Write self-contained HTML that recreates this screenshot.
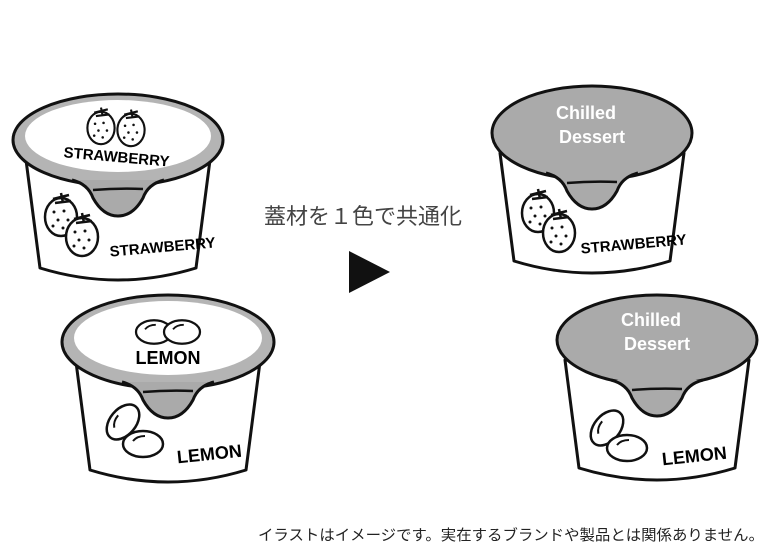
<!DOCTYPE html>
<html><head><meta charset="utf-8"><style>
html,body{margin:0;padding:0;background:#fff;}
svg{display:block}
text{font-family:"Liberation Sans","Noto Sans CJK JP",sans-serif;}
.h{font-family:"Liberation Sans",sans-serif;font-weight:bold;}
</style></head><body>
<svg width="777" height="556" viewBox="0 0 777 556" xmlns="http://www.w3.org/2000/svg">
<defs>
<g id="body">
<path d="M-92,20 L-78,128 Q0,152 78,128 L92,20 Z" fill="#fff" stroke="#111" stroke-width="3" stroke-linejoin="round"/>
</g>
<g id="tab">
<path d="M-46,40 Q-30,44 -25,58 Q-15,76 0,76 Q15,76 25,58 Q30,44 46,40" fill="#aaa" stroke="#111" stroke-width="3" stroke-linejoin="round"/>
<path d="M-25,50 Q0,48 25,49" fill="none" stroke="#111" stroke-width="2.5"/>
</g>
<g id="berry">
<ellipse cx="0" cy="0" rx="16" ry="19" fill="#fff" stroke="#111" stroke-width="2.5"/>
<path d="M-8,-18 L8,-22 M0,-24 L2,-14 M-6,-14 L10,-16" stroke="#111" stroke-width="2.5"/>
<g fill="#111"><circle cx="-7" cy="-5" r="1.5"/><circle cx="3" cy="-6" r="1.5"/><circle cx="-3" cy="3" r="1.5"/><circle cx="7" cy="3" r="1.5"/><circle cx="-8" cy="9" r="1.5"/><circle cx="2" cy="11" r="1.5"/></g>
</g>
<g id="lemon">
<ellipse cx="0" cy="0" rx="20" ry="13" fill="#fff" stroke="#111" stroke-width="2.5"/>
<path d="M-10,-3 Q-6,-8 2,-8" fill="none" stroke="#111" stroke-width="2"/>
</g>
</defs>

<!-- Top-left strawberry -->
<g transform="translate(118,140)">
<use href="#body"/>
<ellipse cx="0" cy="0" rx="105" ry="46" fill="#b4b4b4" stroke="#111" stroke-width="3"/>
<ellipse cx="0" cy="-4" rx="93" ry="36" fill="#fff"/>
<use href="#tab"/>
<use href="#berry" transform="translate(-17,-12) scale(0.85)"/>
<use href="#berry" transform="translate(13,-10) scale(0.85)"/>
<text x="0" y="22" text-anchor="middle" class="h" font-size="15" transform="rotate(5)">STRAWBERRY</text>
<use href="#berry" transform="translate(-57,77)"/>
<use href="#berry" transform="translate(-36,97)"/>
<text x="45" y="112" text-anchor="middle" class="h" font-size="15" transform="rotate(-5 45 112)">STRAWBERRY</text>
</g>

<!-- Top-right -->
<g transform="translate(592,133)">
<use href="#body"/>
<ellipse cx="0" cy="0" rx="100" ry="47" fill="#aaa" stroke="#111" stroke-width="3"/>
<use href="#tab"/>
<text x="-6" y="-14" text-anchor="middle" class="h" font-size="18" fill="#fff">Chilled</text>
<text x="0" y="10" text-anchor="middle" class="h" font-size="18" fill="#fff">Dessert</text>
<use href="#berry" transform="translate(-54,80)"/>
<use href="#berry" transform="translate(-33,100)"/>
<text x="42" y="116" text-anchor="middle" class="h" font-size="15" transform="rotate(-5 42 116)">STRAWBERRY</text>
</g>

<!-- Bottom-left lemon -->
<g transform="translate(168,342)">
<use href="#body"/>
<ellipse cx="0" cy="0" rx="106" ry="47" fill="#b4b4b4" stroke="#111" stroke-width="3"/>
<ellipse cx="0" cy="-4" rx="94" ry="37" fill="#fff"/>
<use href="#tab"/>
<use href="#lemon" transform="translate(-14,-10) scale(0.9)"/>
<use href="#lemon" transform="translate(14,-10) scale(0.9)"/>
<text x="0" y="22" text-anchor="middle" class="h" font-size="18">LEMON</text>
<use href="#lemon" transform="translate(-45,80) rotate(-50)"/>
<use href="#lemon" transform="translate(-25,102)"/>
<text x="42" y="118" text-anchor="middle" class="h" font-size="18" transform="rotate(-6 42 118)">LEMON</text>
</g>

<!-- Bottom-right -->
<g transform="translate(657,340)">
<use href="#body"/>
<ellipse cx="0" cy="0" rx="100" ry="45" fill="#aaa" stroke="#111" stroke-width="3"/>
<use href="#tab"/>
<text x="-6" y="-14" text-anchor="middle" class="h" font-size="18" fill="#fff">Chilled</text>
<text x="0" y="10" text-anchor="middle" class="h" font-size="18" fill="#fff">Dessert</text>
<use href="#lemon" transform="translate(-50,88) rotate(-50)"/>
<use href="#lemon" transform="translate(-30,108)"/>
<text x="38" y="122" text-anchor="middle" class="h" font-size="18" transform="rotate(-6 38 122)">LEMON</text>
</g>

<text x="363" y="224" text-anchor="middle" font-size="22" fill="#444">蓋材を１色で共通化</text>
<path d="M349,251 L390,272 L349,293 Z" fill="#111"/>
<text x="764" y="540" text-anchor="end" font-size="15" fill="#222" textLength="506" lengthAdjust="spacingAndGlyphs">イラストはイメージです。実在するブランドや製品とは関係ありません。</text>
</svg>
</body></html>
